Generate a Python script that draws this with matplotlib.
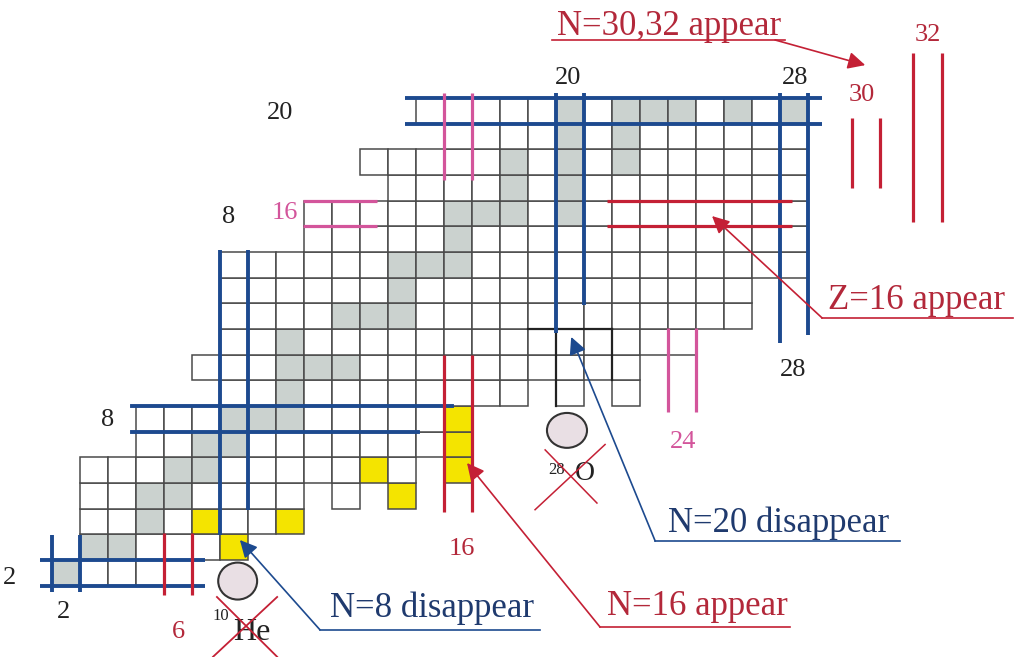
import matplotlib.pyplot as plt
from matplotlib.patches import Rectangle, Ellipse

plt.rcParams['font.family'] = ['Liberation Serif', 'DejaVu Serif']

# chart of light nuclides: proton number Z (rows) and neutron range per row
z_rows  = [2, 3, 4, 5, 6, 7, 8, 9, 10, 11, 12, 13, 14, 15, 16, 17, 18, 19, 20]
n_first = [2, 3, 3, 3, 3, 5, 5, 8, 7, 8, 8, 8, 8, 11, 11, 14, 13, 16, 15]
n_last  = [6, 8, 10, 14, 16, 16, 16, 22, 22, 24, 26, 26, 28, 28, 28, 28, 28, 28, 28]
# unbound nuclei inside a row
n_missing = {5: [11, 13], 6: [15], 9: [19, 21]}
# stable nuclei (grey)
stable = {2: [2], 3: [3, 4], 4: [5], 5: [5, 6], 6: [6, 7], 7: [7, 8],
          8: [8, 9, 10], 9: [10], 10: [10, 11, 12], 11: [10], 12: [12, 13, 14],
          13: [14], 14: [14, 15, 16], 15: [16], 16: [16, 17, 18, 20],
          17: [18, 20], 18: [18, 20, 22], 19: [20, 22],
          20: [20, 22, 23, 24, 26, 28]}
# halo / neutron-rich drip-line nuclei (yellow)
halo_z = [3, 4, 4, 5, 6, 6, 7, 8]
halo_n = [8, 7, 10, 14, 13, 16, 16, 16]

BLUE = '#1d4a8f'
RED = '#c42035'
PINK = '#d3559b'
NAVY_TXT = '#1f3a6e'
RED_TXT = '#b3283a'

fig = plt.figure(figsize=(10.17, 6.57), dpi=100)
ax = fig.add_axes([0, 0, 1, 1])
ax.set_xlim(-0.357, 35.96)
ax.set_ylim(-1.278, 24.317)
ax.axis('off')

halo = set(zip(halo_z, halo_n))
for z, n0, n1 in zip(z_rows, n_first, n_last):
    for n in range(n0, n1 + 1):
        if n in n_missing.get(z, []):
            continue
        if (z, n) in halo:
            fc = '#f4e400'
        elif n in stable.get(z, []):
            fc = '#cbd2cf'
        else:
            fc = 'white'
        ax.add_patch(Rectangle((n - 0.5, z - 0.5), 1, 1, facecolor=fc,
                               edgecolor='#4a4a4a', lw=1.1, zorder=1))

# darker cell borders around N=20 at Z=9-11
ax.plot([18.5, 21.5], [11.5, 11.5], color='#222', lw=1.6, zorder=2)
ax.plot([19.5, 19.5], [8.5, 11.5], color='#222', lw=1.6, zorder=2)
ax.plot([21.5, 21.5], [9.5, 11.5], color='#222', lw=1.6, zorder=2)

def hpair(z, x0, x1, color, lw):
    for y in (z - 0.5, z + 0.5):
        ax.plot([x0, x1], [y, y], color=color, lw=lw, solid_capstyle='butt', zorder=3)

def vline(x, y0, y1, color, lw):
    ax.plot([x, x], [y0, y1], color=color, lw=lw, solid_capstyle='butt', zorder=3)

# magic numbers 2, 8, 20, 28 (blue)
hpair(2, 1.07, 6.96, BLUE, 2.8)
vline(1.5, 1.25, 3.47, BLUE, 2.8)
vline(2.5, 1.25, 3.47, BLUE, 2.8)
ax.plot([4.36, 15.79], [8.5, 8.5], color=BLUE, lw=2.8, zorder=3)
ax.plot([4.36, 14.57], [7.5, 7.5], color=BLUE, lw=2.8, zorder=3)
vline(7.5, 3.47, 14.58, BLUE, 2.8)
vline(8.5, 4.45, 14.58, BLUE, 2.8)
vline(19.5, 11.35, 20.7, BLUE, 2.8)
vline(20.5, 12.44, 20.7, BLUE, 2.8)
hpair(20, 14.11, 29.0, BLUE, 2.8)
vline(27.5, 10.95, 20.7, BLUE, 2.8)
vline(28.5, 11.27, 20.7, BLUE, 2.8)

# new magic numbers (red)
vline(5.5, 1.15, 3.55, RED, 2.3)
vline(6.5, 1.15, 3.55, RED, 2.3)
vline(15.5, 4.37, 10.49, RED, 2.3)
vline(16.5, 4.37, 10.49, RED, 2.3)
hpair(16, 21.32, 27.93, RED, 2.3)
vline(30.07, 16.99, 19.71, RED, 2.3)
vline(31.07, 16.99, 19.71, RED, 2.3)
vline(32.25, 15.67, 22.25, RED, 2.3)
vline(33.29, 15.67, 22.25, RED, 2.3)

# pink markers
vline(15.5, 17.3, 20.7, PINK, 2.3)
vline(16.5, 17.3, 20.7, PINK, 2.3)
hpair(16, 10.46, 13.1, PINK, 2.3)
vline(23.5, 8.26, 11.53, PINK, 2.3)
vline(24.5, 8.26, 11.53, PINK, 2.3)

# axis numbers
lab = dict(ha='center', va='center', fontsize=19, zorder=5)
ax.text(9.64, 19.92, '20', color='#222', **lab)
ax.text(7.82, 15.87, '8', color='#222', **lab)
ax.text(9.82, 16.03, '16', color=PINK, **lab)
ax.text(3.5, 7.97, '8', color='#222', **lab)
ax.text(0.0, 1.8, '2', color='#222', **lab)
ax.text(1.9, 0.48, '2', color='#222', **lab)
ax.text(6.0, -0.3, '6', color=RED_TXT, **lab)
ax.text(16.14, 2.94, '16', color=RED_TXT, **lab)
ax.text(24.04, 7.1, '24', color=PINK, **lab)
ax.text(27.96, 9.9, '28', color='#222', **lab)
ax.text(19.93, 21.28, '20', color='#222', **lab)
ax.text(28.04, 21.28, '28', color='#222', **lab)
ax.text(30.43, 20.62, '30', color=RED_TXT, **lab)
ax.text(32.79, 22.94, '32', color=RED_TXT, **lab)

# unbound 10He and 28O
ax.add_patch(Ellipse((8.13, 1.68), 1.39, 1.44, facecolor='#e9dfe4',
                     edgecolor='#333', lw=1.5, zorder=4))
ax.text(7.54, 0.32, '10', fontsize=12, ha='center', va='center', color='#222', zorder=5)
ax.text(8.64, -0.34, 'He', fontsize=23, ha='center', va='center', color='#222', zorder=5)
ax.plot([7.25, 9.54], [-1.27, 1.06], color=RED, lw=1.3, zorder=6)
ax.plot([7.39, 9.54], [1.06, -1.27], color=RED, lw=1.3, zorder=6)

ax.add_patch(Ellipse((19.89, 7.55), 1.43, 1.36, facecolor='#e9dfe4',
                     edgecolor='#333', lw=1.5, zorder=4))
ax.text(19.5, 6.0, '28', fontsize=12, ha='center', va='center', color='#222', zorder=5)
ax.text(20.54, 5.89, 'O', fontsize=20, ha='center', va='center', color='#222', zorder=5)
ax.plot([18.75, 21.25], [4.46, 7.0], color=RED, lw=1.1, zorder=6)
ax.plot([19.11, 20.96], [6.79, 4.72], color=RED, lw=1.1, zorder=6)

# annotations: (text, text pos, underline x-range, line start, arrow tip, colour)
notes = [
    ('N=30,32 appear', (19.54, 23.3), (19.36, 27.68), (27.32, 22.76), (30.54, 21.78), RED_TXT, RED),
    ('Z=16 appear', (29.21, 12.6), (29.0, 35.8), (29.0, 11.93), (25.07, 15.9), RED_TXT, RED),
    ('N=20 disappear', (23.5, 3.95), (23.04, 31.79), (23.04, 3.24), (20.04, 11.19), NAVY_TXT, BLUE),
    ('N=16 appear', (21.32, 0.67), (21.07, 27.86), (21.07, -0.11), (16.32, 6.28), RED_TXT, RED),
    ('N=8 disappear', (11.43, 0.63), (11.07, 18.93), (11.07, -0.22), (8.21, 3.28), NAVY_TXT, BLUE),
]
for txt, (tx, ty), (u0, u1), start, tip, tcol, acol in notes:
    ax.text(tx, ty, txt, color=tcol, fontsize=25, ha='left', va='center', zorder=7)
    ax.plot([u0, u1], [start[1], start[1]], color=acol, lw=1.2, zorder=7)
    ax.annotate('', xy=tip, xytext=start, zorder=8,
                arrowprops=dict(arrowstyle='-|>', color=acol, lw=1.2,
                                mutation_scale=26, shrinkA=0, shrinkB=0))

fig.savefig('out.png', dpi=100)
